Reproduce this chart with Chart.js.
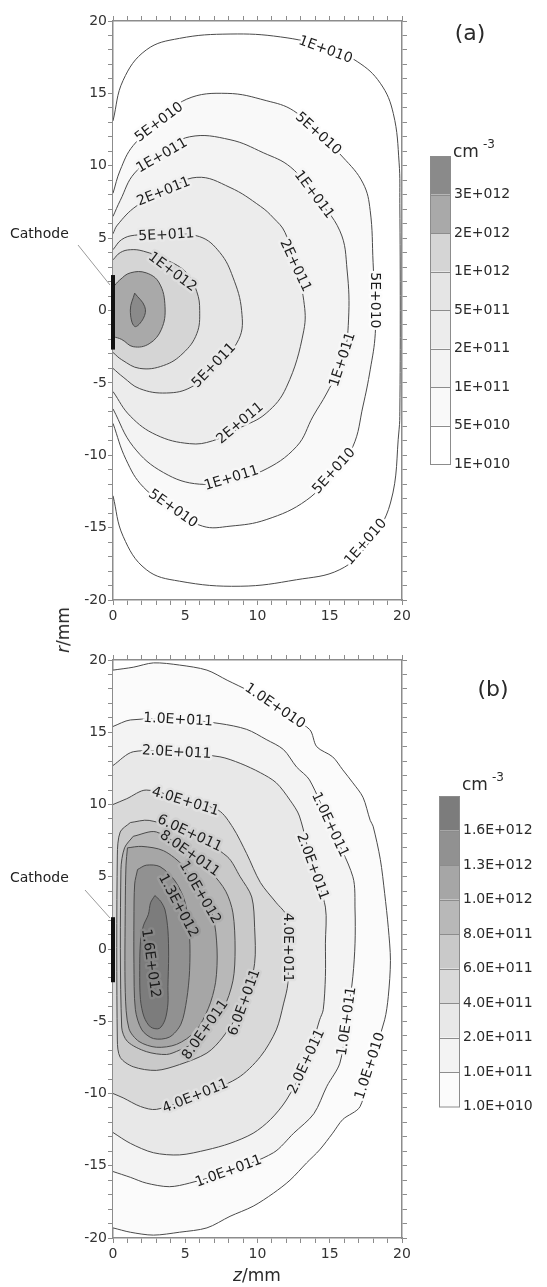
<!DOCTYPE html>
<html>
<head>
<meta charset="utf-8">
<script src="https://cdn.jsdelivr.net/npm/chart.js@4.4.1/dist/chart.umd.min.js"></script>
<style>
  html, body { margin: 0; padding: 0; background: #ffffff; }
  #page { position: relative; width: 547px; height: 1287px; overflow: hidden; background: #ffffff; }
  canvas { position: absolute; left: 0; }
  #chartA { top: 0; }
  #chartB { top: 640px; }
  #rLabel {
    position: absolute; left: 63px; top: 630px;
    transform: translate(-50%, -50%) rotate(-90deg);
    font: 17px "DejaVu Sans", sans-serif; color: #222; white-space: nowrap;
  }
</style>
</head>
<body>
<div id="page">
  <canvas id="chartA" width="547" height="640"></canvas>
  <canvas id="chartB" width="547" height="647"></canvas>
  <div id="rLabel"><i>r</i>/mm</div>
</div>
<script>
// ======================================
// Alapbeállítások
// ======================================

Chart.defaults.font.family = "'DejaVu Sans', sans-serif";
Chart.defaults.animation = false;


// ======================================
// (a) szintek, színek, kontúrok  [z mm, r mm]
// ======================================

const levelsA = ["1E+010", "5E+010", "1E+011", "2E+011", "5E+011", "1E+012", "2E+012", "3E+012"];
const fillsA = ["#ffffff", "#f9f9f9", "#f3f3f3", "#ececec", "#e5e5e5", "#d5d5d5", "#a9a9a9", "#8a8a8a"];

const contourA1E10 = [
  [0, 13.1], [0.7, 15.9], [2.3, 18.0], [4.6, 18.8], [8.1, 19.1], [11.6, 18.9], [14.7, 18.2],
  [16.9, 17.2], [18.5, 15.7], [19.4, 13.6], [19.8, 10.2], [19.85, 7.4], [19.88, 0], [19.85, -7.0],
  [19.8, -8.2], [19.2, -13.3], [17.6, -16.2], [15.7, -17.9], [12.7, -18.6], [8.8, -19.05],
  [4.6, -18.7], [2.3, -17.9], [0.7, -15.6], [0, -12.8]
];
const contourA5E10 = [
  [0, 8.1], [0.5, 9.7], [1.4, 11.4], [3.2, 13.0], [5.1, 14.6], [7.9, 15.0], [10.6, 14.5],
  [12.5, 13.8], [14.2, 12.2], [15.9, 10.6], [17.3, 8.8], [17.8, 6.9], [18.0, 3.3], [18.1, 0.7],
  [18.15, -1.6], [17.8, -4.1], [17.3, -6.6], [16.6, -9.4], [15.3, -11.1], [13.4, -13.1],
  [10.6, -14.45], [8.1, -14.9], [6.2, -14.9], [4.15, -13.7], [2.1, -12.2], [0.9, -10.3], [0, -7.8]
];
const contourA1E11 = [
  [0, 6.5], [0.5, 7.6], [1.5, 9.5], [3.4, 10.9], [5.3, 12.0], [8.1, 11.8], [10.4, 10.9],
  [12.3, 9.9], [13.9, 8.0], [15.7, 5.5], [16.2, 2.8], [16.3, -0.65], [15.9, -3.4], [14.8, -5.7],
  [13.85, -7.3], [12.7, -9.4], [10.3, -11.1], [8.2, -11.6], [6.0, -12.0], [3.5, -11.2],
  [1.4, -9.4], [0, -6.8]
];
const contourA2E11 = [
  [0, 5.3], [0.3, 5.9], [1.6, 7.2], [3.5, 8.2], [5.8, 9.2], [8.1, 8.5], [10.2, 7.2],
  [11.1, 6.4], [11.9, 5.4], [12.6, 3.1], [13.2, 0.7], [13.2, -1.4], [12.0, -5.3], [10.6, -7.1],
  [8.8, -8.1], [6.9, -9.0], [5.3, -9.2], [3.0, -8.6], [1.2, -7.3], [0, -5.6]
];
const contourA5E11 = [
  [0, 4.2], [0.6, 4.9], [1.5, 5.2], [3.7, 5.25], [6.0, 5.1], [7.4, 4.0], [8.3, 2.3],
  [8.9, 0], [8.7, -2.0], [7.0, -3.95], [5.4, -5.3], [3.7, -5.7], [1.85, -5.4], [0.7, -4.6], [0, -4.0]
];
const contourA1E12 = [
  [0, 3.5], [0.5, 4.0], [1.2, 4.2], [2.1, 4.1], [3.7, 3.5], [5.1, 2.6], [5.8, 1.3],
  [6.0, 0], [5.8, -1.6], [4.85, -2.95], [3.5, -3.8], [1.85, -4.0], [0.6, -3.4], [0, -2.9]
];
const contourA2E12 = [
  [0, 1.6], [0.46, 2.1], [1.2, 2.6], [2.3, 2.6], [3.2, 1.9], [3.6, 0.26], [3.35, -1.3],
  [2.5, -2.3], [1.4, -2.5], [0.6, -2.0], [0, -1.8]
];
const contourA3E12 = [
  [1.5, 1.2], [2.2, 0.26], [2.1, -0.54], [1.5, -1.1], [1.2, 0.03], [1.5, 1.2]
];

const cathodeA = [2.45, -2.7];

// szöveg, z, r, szög (fok), szint
const labelsA = [
  ["1E+010", 14.7, 18.0, 20, 0],
  ["5E+010", 3.2, 13.0, -37, 1],
  ["5E+010", 14.2, 12.2, 42, 1],
  ["1E+011", 3.4, 10.7, -30, 2],
  ["1E+011", 13.9, 8.0, 53, 2],
  ["2E+011", 3.5, 8.2, -22, 3],
  ["5E+011", 3.7, 5.2, -3, 4],
  ["1E+012", 4.1, 2.65, 37, 5],
  ["2E+011", 12.6, 3.1, 65, 3],
  ["5E+010", 18.1, 0.7, 90, 1],
  ["1E+011", 15.9, -3.4, -72, 2],
  ["5E+011", 7.0, -3.8, -46, 4],
  ["2E+011", 8.8, -7.8, -40, 3],
  ["1E+011", 8.2, -11.6, -17, 2],
  ["5E+010", 4.15, -13.7, 35, 1],
  ["5E+010", 15.3, -11.1, -48, 1],
  ["1E+010", 17.5, -16.0, -49, 0]
];


// ======================================
// (b) szintek, színek, kontúrok  [z mm, r mm]
// ======================================

const levelsB = ["1.0E+010", "1.0E+011", "2.0E+011", "4.0E+011", "6.0E+011", "8.0E+011", "1.0E+012", "1.3E+012", "1.6E+012"];
const fillsB = ["#fbfbfb", "#f3f3f3", "#e8e8e8", "#d9d9d9", "#c9c9c9", "#b8b8b8", "#a6a6a6", "#919191", "#7c7c7c"];

const contourB1E10 = [
  [0, 19.3], [1.4, 19.5], [2.8, 19.8], [4.6, 19.65], [6.5, 19.3], [7.9, 18.6], [9.5, 17.8],
  [11.5, 16.5], [13.6, 15.2], [14.1, 14.0], [15.2, 13.3], [15.9, 12.4], [16.6, 11.5], [17.3, 10.5],
  [17.8, 8.9], [18.0, 8.5], [18.5, 6.2], [18.8, 3.85], [19.05, 1.5], [19.2, -0.8], [19.05, -3.3],
  [18.8, -4.9], [17.8, -8.1], [17.1, -10.9], [15.9, -11.8], [15.2, -12.75], [14.3, -13.9],
  [13.4, -14.8], [12.25, -16.0], [11.1, -16.9], [9.7, -17.8], [8.1, -18.5], [6.5, -19.3],
  [4.6, -19.6], [2.8, -19.8], [1.2, -19.6], [0, -19.3]
];
const contourB1E11 = [
  [0, 15.4], [1.2, 15.85], [4.5, 15.9], [7.4, 15.6], [9.25, 15.2], [10.6, 14.5], [11.8, 13.8],
  [12.7, 12.6], [13.6, 11.7], [15.0, 8.6], [16.6, 5.0], [16.75, 2.7], [16.75, 0.4], [16.6, -1.9],
  [16.2, -5.0], [15.7, -7.9], [14.8, -9.5], [13.9, -11.4], [12.5, -12.75], [11.1, -14.1],
  [8.0, -15.4], [5.3, -16.2], [3.9, -16.45], [2.3, -16.2], [1.2, -15.8], [0, -15.4]
];
const contourB2E11 = [
  [0, 12.7], [1.4, 13.65], [4.4, 13.6], [7.4, 13.3], [8.8, 12.85], [10.2, 12.2], [11.3, 11.5],
  [12.25, 10.3], [12.9, 9.2], [13.8, 5.7], [14.7, 2.9], [14.7, 0.4], [14.7, -1.9], [14.55, -4.2],
  [14.3, -4.9], [13.4, -7.8], [12.0, -10.45], [10.9, -11.8], [9.7, -12.75], [8.1, -13.45],
  [6.5, -13.9], [4.6, -14.25], [2.8, -14.1], [1.2, -13.45], [0, -12.7]
];
const contourB4E11 = [
  [0, 10.0], [0.95, 10.4], [2.3, 11.0], [5.0, 10.3], [7.3, 9.6], [8.3, 8.4], [9.25, 6.6],
  [10.2, 4.6], [11.3, 3.2], [12.0, 2.3], [12.1, 0], [12.1, -2.4], [11.8, -3.8], [11.3, -5.6],
  [10.2, -7.45], [8.6, -8.95], [5.7, -10.2], [3.0, -11.1], [1.9, -10.9], [0.7, -10.3], [0, -10.0]
];
const contourB6E11 = [
  [1.2, 8.75], [2.5, 8.9], [5.3, 8.0], [7.9, 6.4], [8.8, 5.0], [9.6, 3.6], [9.8, 1.5],
  [9.8, -1.0], [9.1, -3.7], [7.6, -6.1], [6.5, -7.2], [4.6, -8.0], [3.0, -8.4], [1.4, -8.15],
  [0.5, -7.5], [0.3, -6.3], [0.3, 6.5], [0.5, 8.1], [1.2, 8.75]
];
const contourB8E11 = [
  [1.4, 7.8], [3.0, 8.1], [5.3, 6.6], [6.8, 5.3], [7.8, 4.0], [8.3, 2.5], [8.45, 0],
  [8.3, -2.2], [7.6, -4.2], [6.4, -5.6], [5.4, -6.6], [4.6, -7.0], [3.7, -7.3], [2.3, -7.1],
  [1.0, -6.4], [0.6, -5.4], [0.55, 5.5], [0.8, 7.0], [1.4, 7.8]
];
const contourB10E12 = [
  [1.0, 7.0], [2.0, 7.1], [3.5, 6.8], [4.9, 5.7], [6.0, 3.9], [6.9, 2.3], [7.2, 0],
  [7.1, -2.3], [6.6, -4.1], [5.7, -5.7], [4.4, -6.6], [3.0, -6.8], [1.8, -6.4], [1.1, -5.5],
  [0.85, -3.0], [0.85, 3.0], [0.9, 5.8], [1.0, 7.0]
];
const contourB13E12 = [
  [1.7, 5.5], [2.3, 5.8], [3.25, 5.7], [4.3, 4.7], [5.0, 3.2], [5.3, 0.85], [5.3, -1.5],
  [5.1, -3.5], [4.7, -5.2], [3.9, -6.1], [2.8, -6.2], [2.0, -5.6], [1.55, -4.2], [1.45, -1.0],
  [1.45, 2.0], [1.5, 4.5], [1.7, 5.5]
];
const contourB16E12 = [
  [2.9, 3.7], [3.3, 3.3], [3.6, 2.7], [3.8, 1.3], [3.85, -0.5], [3.8, -2.6], [3.8, -3.8],
  [3.6, -4.9], [3.2, -5.5], [2.6, -5.4], [2.15, -4.7], [1.9, -3.5], [1.85, -1.5], [1.9, 0.5],
  [2.1, 1.6], [2.45, 2.4], [2.6, 3.2], [2.9, 3.7]
];

const cathodeB = [2.2, -2.3];

const labelsB = [
  ["1.0E+010", 11.2, 16.8, 34, 0],
  ["1.0E+011", 4.5, 15.85, 3, 1],
  ["2.0E+011", 4.4, 13.6, 3, 2],
  ["4.0E+011", 5.0, 10.2, 17, 3],
  ["6.0E+011", 5.3, 8.0, 25, 4],
  ["8.0E+011", 5.3, 6.6, 35, 5],
  ["1.0E+012", 6.0, 3.9, 60, 6],
  ["1.3E+012", 4.5, 3.0, 62, 7],
  ["1.6E+012", 2.6, -1.0, 82, 8],
  ["1.0E+011", 15.0, 8.6, 65, 1],
  ["2.0E+011", 13.8, 5.7, 70, 2],
  ["4.0E+011", 12.1, 0.1, 90, 3],
  ["6.0E+011", 9.1, -3.7, -70, 4],
  ["8.0E+011", 6.4, -5.6, -55, 5],
  ["1.0E+011", 16.2, -5.0, -82, 1],
  ["1.0E+010", 17.8, -8.1, -72, 0],
  ["2.0E+011", 13.4, -7.8, -65, 2],
  ["4.0E+011", 5.7, -10.2, -22, 3],
  ["1.0E+011", 8.0, -15.4, -20, 1]
];


// ======================================
// Segédfüggvények
// ======================================

function toPoints(list) {
  return list.map((p) => ({ x: p[0], y: p[1] }));
}

function mixColor(a, b) {
  const pa = parseInt(a.slice(1), 16);
  const pb = parseInt(b.slice(1), 16);
  const ch = (v, s) => (v >> s) & 255;
  const m = (s) => Math.round((ch(pa, s) + ch(pb, s)) / 2);
  return `rgb(${m(16)},${m(8)},${m(0)})`;
}

function contourDatasets(contours, fills, tension) {
  return contours.map((list, i) => ({
    data: toPoints(list),
    showLine: true,
    fill: "shape",
    backgroundColor: fills[i],
    borderColor: "#4a4a4a",
    borderWidth: 1,
    pointRadius: 0,
    pointHoverRadius: 0,
    tension: tension,
    order: contours.length - i
  }));
}

function axis(position, min, max, size, showLabels) {
  const horizontal = position === "top" || position === "bottom";

  return {
    type: "linear",
    position: position,
    min: min,
    max: max,
    z: 1,
    border: { display: true, color: "#8c8c8c", width: 1.5 },
    grid: { drawOnChartArea: false, drawTicks: true, tickLength: 5, color: "#8c8c8c", lineWidth: 1 },
    ticks: {
      stepSize: 1,
      autoSkip: false,
      maxRotation: 0,
      minRotation: 0,
      padding: horizontal ? 3 : 1,
      color: "#333333",
      font: { size: 14 },
      callback: (value) => (showLabels && value % 5 === 0 ? String(value) : "")
    },
    afterFit: (scale) => {
      if (horizontal) {
        scale.height = size;
      } else {
        scale.width = size;
      }
    }
  };
}


// ======================================
// Feliratok, színskála, katód
// ======================================

function makeDecor(cfg) {
  return {
    id: "decor",
    afterDraw(chart) {
      const ctx = chart.ctx;
      const xs = chart.scales.x;
      const ys = chart.scales.y;

      // kontúr feliratok
      ctx.save();
      ctx.font = "14px 'DejaVu Sans'";
      ctx.textAlign = "center";
      ctx.textBaseline = "middle";
      cfg.labels.forEach(([text, z, r, angle, level]) => {
        const inner = cfg.fills[level];
        const outer = level > 0 ? cfg.fills[level - 1] : "#ffffff";
        ctx.save();
        ctx.translate(xs.getPixelForValue(z), ys.getPixelForValue(r));
        ctx.rotate((angle * Math.PI) / 180);
        ctx.lineWidth = 5;
        ctx.lineJoin = "round";
        ctx.strokeStyle = mixColor(inner, outer);
        ctx.strokeText(text, 0, 0);
        ctx.fillStyle = "#1c1c1c";
        ctx.fillText(text, 0, 0);
        ctx.restore();
      });
      ctx.restore();

      // katód
      const cx = xs.getPixelForValue(0);
      ctx.save();
      ctx.strokeStyle = "#111111";
      ctx.lineWidth = 4;
      ctx.beginPath();
      ctx.moveTo(cx, ys.getPixelForValue(cfg.cathode[0]));
      ctx.lineTo(cx, ys.getPixelForValue(cfg.cathode[1]));
      ctx.stroke();

      ctx.strokeStyle = "#9a9a9a";
      ctx.lineWidth = 1;
      ctx.beginPath();
      ctx.moveTo(cfg.leader[0], cfg.leader[1]);
      ctx.lineTo(cfg.leader[2], cfg.leader[3]);
      ctx.stroke();

      ctx.fillStyle = "#222222";
      ctx.font = "14px 'DejaVu Sans'";
      ctx.textAlign = "left";
      ctx.textBaseline = "alphabetic";
      ctx.fillText("Cathode", cfg.cathodeText[0], cfg.cathodeText[1]);
      ctx.restore();

      // színskála
      const bar = cfg.bar;
      const n = cfg.fills.length;
      ctx.save();
      for (let i = 0; i < n; i++) {
        ctx.fillStyle = cfg.fills[n - 1 - i];
        ctx.fillRect(bar.left, bar.top + i * bar.step, bar.width, bar.step);
      }
      ctx.strokeStyle = "#8c8c8c";
      ctx.lineWidth = 1;
      for (let i = 1; i < n; i++) {
        const y = Math.round(bar.top + i * bar.step) + 0.5;
        ctx.beginPath();
        ctx.moveTo(bar.left, y);
        ctx.lineTo(bar.left + bar.width, y);
        ctx.stroke();
      }
      ctx.strokeRect(bar.left + 0.5, bar.top + 0.5, bar.width, n * bar.step);

      ctx.fillStyle = "#2a2a2a";
      ctx.font = "14px 'DejaVu Sans'";
      ctx.textAlign = "left";
      ctx.textBaseline = "middle";
      for (let i = 0; i < n; i++) {
        ctx.fillText(cfg.levels[n - 1 - i], bar.labelX, bar.top + (i + 1) * bar.step);
      }

      // cm^-3
      ctx.textBaseline = "alphabetic";
      ctx.font = "17px 'DejaVu Sans'";
      ctx.fillText("cm", bar.unitX, bar.unitY);
      const cmW = ctx.measureText("cm").width;
      ctx.font = "12px 'DejaVu Sans'";
      ctx.fillText("-3", bar.unitX + cmW + 4, bar.unitY - 9);

      // panel betűjel
      ctx.font = "22px 'DejaVu Sans'";
      ctx.textAlign = "center";
      ctx.textBaseline = "middle";
      ctx.fillText(cfg.panel, cfg.panelPos[0], cfg.panelPos[1]);

      // z tengely felirat
      if (cfg.zTitle) {
        ctx.font = "italic 17px 'DejaVu Sans'";
        const zW = ctx.measureText("z").width;
        ctx.font = "17px 'DejaVu Sans'";
        const restW = ctx.measureText("/mm").width;
        const start = cfg.zTitle[0] - (zW + restW) / 2;
        ctx.textAlign = "left";
        ctx.font = "italic 17px 'DejaVu Sans'";
        ctx.fillText("z", start, cfg.zTitle[1]);
        ctx.font = "17px 'DejaVu Sans'";
        ctx.fillText("/mm", start + zW, cfg.zTitle[1]);
      }
      ctx.restore();
    }
  };
}


// ======================================
// Chart létrehozása
// ======================================

function buildChart(canvasId, cfg) {
  return new Chart(document.getElementById(canvasId), {
    type: "scatter",
    data: {
      datasets: contourDatasets(cfg.contours, cfg.fills, cfg.tension)
    },
    options: {
      responsive: false,
      devicePixelRatio: 1,
      animation: false,
      events: [],
      layout: { padding: 0 },
      plugins: {
        legend: { display: false },
        tooltip: { enabled: false }
      },
      scales: {
        x: axis("bottom", 0, 20, cfg.bottom, true),
        x2: axis("top", 0, 20, cfg.top, false),
        y: axis("left", -20, 20, 113, true),
        y2: axis("right", -20, 20, 145, false)
      }
    },
    plugins: [makeDecor(cfg)]
  });
}

buildChart("chartA", {
  contours: [contourA1E10, contourA5E10, contourA1E11, contourA2E11, contourA5E11, contourA1E12, contourA2E12, contourA3E12],
  fills: fillsA,
  levels: levelsA,
  labels: labelsA,
  tension: 0.4,
  top: 21,
  bottom: 40,
  cathode: cathodeA,
  leader: [78, 245, 110, 285],
  cathodeText: [10, 238],
  bar: { left: 430, top: 156, width: 20, step: 38.5, labelX: 454, unitX: 453, unitY: 157 },
  panel: "(a)",
  panelPos: [470, 34],
  zTitle: null
});

buildChart("chartB", {
  contours: [contourB1E10, contourB1E11, contourB2E11, contourB4E11, contourB6E11, contourB8E11, contourB10E12, contourB13E12, contourB16E12],
  fills: fillsB,
  levels: levelsB,
  labels: labelsB,
  tension: 0.3,
  top: 20,
  bottom: 49,
  cathode: cathodeB,
  leader: [85, 250, 110, 278],
  cathodeText: [10, 242],
  bar: { left: 439, top: 156, width: 20, step: 34.5, labelX: 463, unitX: 462, unitY: 150 },
  panel: "(b)",
  panelPos: [493, 50],
  zTitle: [257, 637]
});
</script>
</body>
</html>
